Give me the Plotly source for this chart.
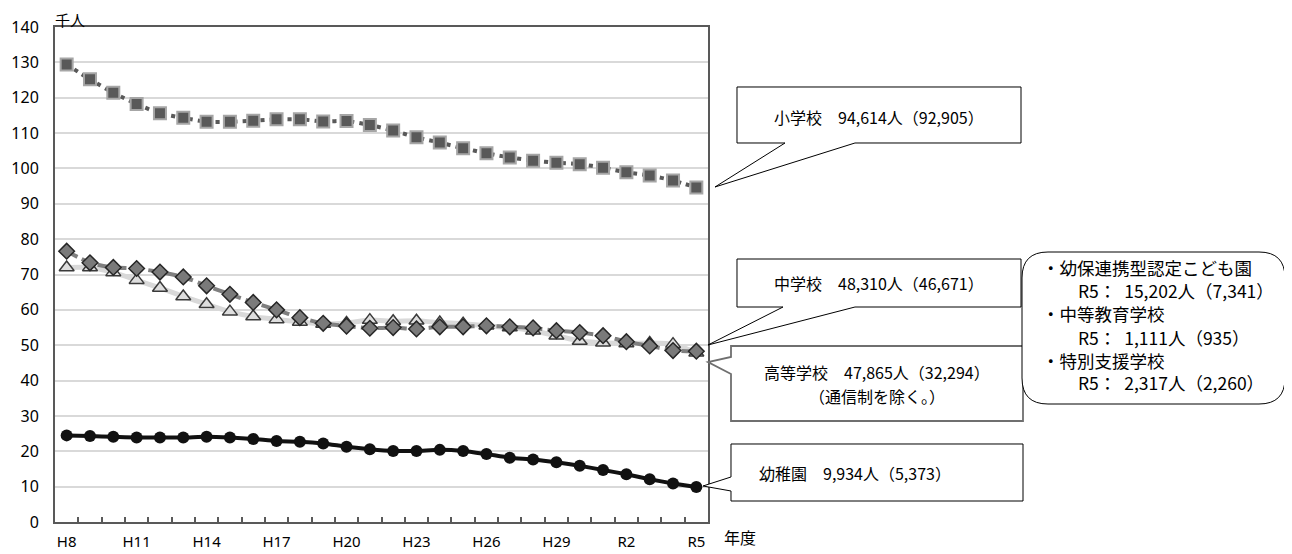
import plotly.graph_objects as go

# ---------------- data ----------------
years = ["H8", "H9", "H10", "H11", "H12", "H13", "H14", "H15", "H16", "H17",
         "H18", "H19", "H20", "H21", "H22", "H23", "H24", "H25", "H26", "H27",
         "H28", "H29", "H30", "R1", "R2", "R3", "R4", "R5"]

elementary = [129.4, 125.2, 121.4, 118.2, 115.6, 114.3, 113.2, 113.2, 113.5, 113.9,
              113.9, 113.3, 113.4, 112.3, 110.7, 108.8, 107.3, 105.7, 104.3, 103.1,
              102.2, 101.6, 101.2, 100.2, 98.9, 98.0, 96.6, 94.6]

junior_high = [76.6, 73.3, 72.0, 71.7, 70.7, 69.3, 66.8, 64.4, 62.1, 60.0,
               57.8, 56.2, 55.4, 54.8, 55.0, 54.6, 55.2, 55.2, 55.5, 55.2,
               54.9, 54.1, 53.6, 52.7, 51.0, 49.8, 48.5, 48.3]

high_school = [72.0, 72.0, 70.6, 68.4, 66.2, 63.8, 61.6, 59.5, 58.1, 57.3,
               56.6, 56.0, 56.3, 57.1, 56.8, 56.9, 56.4, 56.1, 55.5, 55.0,
               54.1, 52.7, 51.2, 50.7, 50.5, 50.6, 50.3, 47.9]

kindergarten = [24.5, 24.3, 24.1, 23.9, 23.9, 23.9, 24.1, 23.9, 23.5, 22.9,
                22.7, 22.2, 21.3, 20.6, 20.1, 20.1, 20.4, 20.1, 19.2, 18.2,
                17.7, 16.9, 15.9, 14.7, 13.5, 12.1, 10.9, 9.9]

x_idx = list(range(len(years)))
label_idx = x_idx[::3]
label_txt = [years[i] for i in label_idx]

callout_texts = {
    "elem": "小学校　94,614人（92,905）",
    "jh": "中学校　48,310人（46,671）",
    "hs1": "高等学校　47,865人（32,294）",
    "hs2": "（通信制を除く。）",
    "kg": "幼稚園　9,934人（5,373）",
}
other_lines = ["・幼保連携型認定こども園", "R5：  15,202人（7,341）",
               "・中等教育学校", "R5：  1,111人（935）",
               "・特別支援学校", "R5：  2,317人（2,260）"]

# ---------------- layout geometry ----------------
# the page body has an 8px margin, so the figure is drawn 8px smaller
OFF = 8
W, H = 1292 - OFF, 554 - OFF
L, R, T, B = 55, 708, 27, 522          # plot area in screen pixels
PW, PH = R - L, B - T

def px(x):
    return (x - L) / PW

def py(y):
    return (B - y) / PH

def path(points, close=True):
    s = "M " + " L ".join(f"{px(x):.5f},{py(y):.5f}" for x, y in points)
    return s + (" Z" if close else "")

JP = "Noto Sans CJK JP"

fig = go.Figure()

fig.add_trace(go.Scatter(
    x=x_idx, y=elementary, mode="lines+markers", name="小学校",
    line=dict(color="#595959", width=4, dash="4px,5px", shape="spline", smoothing=0.6),
    marker=dict(symbol="square", size=12, color="#595959",
                line=dict(color="#a6a6a6", width=2)),
))
fig.add_trace(go.Scatter(
    x=x_idx, y=high_school, mode="lines+markers", name="高等学校",
    line=dict(color="#d9d9d9", width=5, shape="spline", smoothing=0.6),
    marker=dict(symbol="triangle-up", size=13, color="#dedede",
                line=dict(color="#3a3a3a", width=1.5)),
))
fig.add_trace(go.Scatter(
    x=x_idx, y=junior_high, mode="lines+markers", name="中学校",
    line=dict(color="#7f7f7f", width=4, dash="12px,5px", shape="spline", smoothing=0.6),
    marker=dict(symbol="diamond", size=12, color="#7a7a7a",
                line=dict(color="#262626", width=1.5)),
))
fig.add_trace(go.Scatter(
    x=x_idx, y=kindergarten, mode="lines+markers", name="幼稚園",
    line=dict(color="#111111", width=4, shape="spline", smoothing=0.6),
    marker=dict(symbol="circle", size=12, color="#111111"),
))

shapes = []
# 小学校 callout
shapes.append(dict(type="path", xref="paper", yref="paper",
                   path=path([(737, 87), (1021, 87), (1021, 143), (855, 143),
                              (715, 187), (785, 143), (737, 143)]),
                   line=dict(color="#000000", width=1), fillcolor="white"))
# 中学校 callout
shapes.append(dict(type="path", xref="paper", yref="paper",
                   path=path([(737, 259), (1021, 259), (1021, 307), (855, 307),
                              (708, 345), (783, 307), (737, 307)]),
                   line=dict(color="#000000", width=1), fillcolor="white"))
# 高等学校 callout
shapes.append(dict(type="path", xref="paper", yref="paper",
                   path=path([(731, 346), (1023, 346), (1023, 421), (731, 421),
                              (731, 374), (708, 362), (731, 357)]),
                   line=dict(color="#6f6f6f", width=1.8), fillcolor="white"))
# 幼稚園 callout
shapes.append(dict(type="path", xref="paper", yref="paper",
                   path=path([(731, 444), (1023, 444), (1023, 501), (731, 501),
                              (731, 491), (703, 486), (731, 477)]),
                   line=dict(color="#000000", width=1), fillcolor="white"))
# rounded box
x0, x1, y0, y1, r = 1022, 1285, 252, 404, 26
rb = (f"M {px(x0+r):.5f},{py(y0):.5f} L {px(x1-r):.5f},{py(y0):.5f} "
      f"Q {px(x1):.5f},{py(y0):.5f} {px(x1):.5f},{py(y0+r):.5f} "
      f"L {px(x1):.5f},{py(y1-r):.5f} "
      f"Q {px(x1):.5f},{py(y1):.5f} {px(x1-r):.5f},{py(y1):.5f} "
      f"L {px(x0+r):.5f},{py(y1):.5f} "
      f"Q {px(x0):.5f},{py(y1):.5f} {px(x0):.5f},{py(y1-r):.5f} "
      f"L {px(x0):.5f},{py(y0+r):.5f} "
      f"Q {px(x0):.5f},{py(y0):.5f} {px(x0+r):.5f},{py(y0):.5f} Z")
shapes.append(dict(type="path", xref="paper", yref="paper", path=rb,
                   line=dict(color="#000000", width=1), fillcolor="white"))

annotations = []

def text(x, y, s, size=16, xanchor="center"):
    annotations.append(dict(x=px(x), y=py(y), xref="paper", yref="paper", text=s,
                            showarrow=False, xanchor=xanchor, yanchor="middle",
                            font=dict(family=JP, size=size, color="#000000")))

text(879, 117, callout_texts["elem"])
text(879, 283, callout_texts["jh"])
text(877, 372, callout_texts["hs1"])
text(877, 396, callout_texts["hs2"])
text(855, 473, callout_texts["kg"])

ys = [267, 290, 313, 337, 360, 382]
xs = [1040, 1076, 1040, 1076, 1040, 1076]
for s, xx, yy in zip(other_lines, xs, ys):
    text(xx, yy, s, size=17.5, xanchor="left")

text(53, 20, "千人", size=15, xanchor="left")
text(722, 537, "年度", size=16, xanchor="left")

fig.update_layout(
    width=W, height=H,
    margin=dict(l=L - OFF, r=(W + OFF) - R, t=T - OFF, b=(H + OFF) - B, autoexpand=False),
    paper_bgcolor="white", plot_bgcolor="white",
    showlegend=False,
    shapes=shapes, annotations=annotations,
    font=dict(family="Noto Sans", size=16, color="#000000"),
)
fig.update_xaxes(
    range=[-0.5, len(years) - 0.5], tickmode="array",
    tickvals=label_idx, ticktext=label_txt,
    showgrid=False, zeroline=False, automargin=False,
    showline=True, linecolor="#595959", linewidth=2, mirror=True,
    ticks="", ticklabelstandoff=5,
    tickfont=dict(family="Noto Sans", size=15),
    minor=dict(tickvals=[i + 0.5 for i in range(len(years) - 1)], ticks="inside",
               ticklen=5, tickwidth=1.5, tickcolor="#595959", showgrid=False),
)
fig.update_yaxes(
    range=[0, 140], dtick=10, tick0=0,
    showgrid=True, gridcolor="#d9d9d9", gridwidth=1.5,
    zeroline=False, automargin=False,
    showline=True, linecolor="#595959", linewidth=2, mirror=True,
    ticks="", ticklabelstandoff=11,
    tickfont=dict(family="Noto Sans", size=16),
)

fig.write_html("out.html")
